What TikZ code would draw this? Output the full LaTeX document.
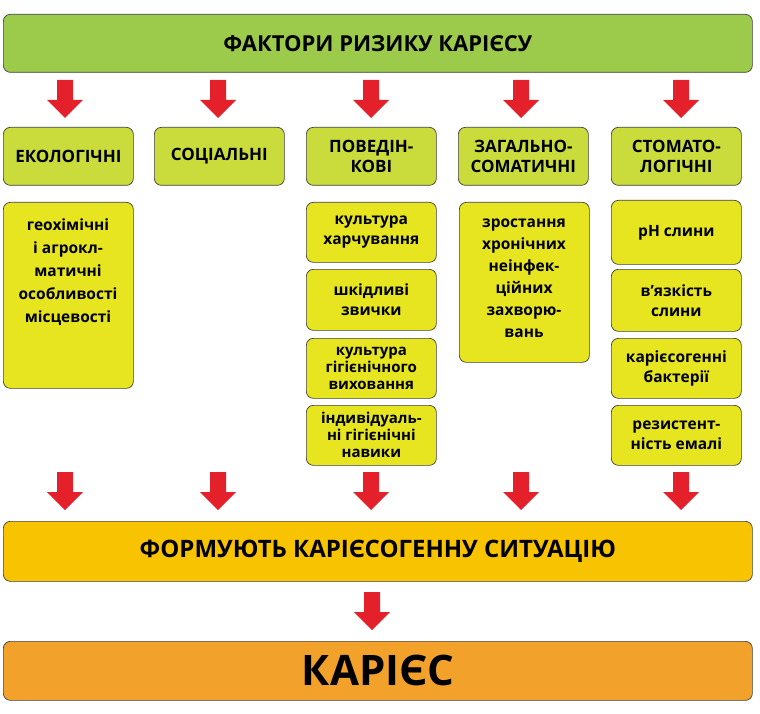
\documentclass[tikz,border=0pt]{standalone}
\usepackage{fontspec}
\setmainfont{Open Sans}
\begin{document}
\begin{tikzpicture}[x=1pt,y=-1pt,
  box/.style={draw=black!75,line width=0.7pt,rounded corners=7pt,align=center,font=\bfseries,inner sep=1pt},
  bar/.style={box,minimum width=749pt,minimum height=58pt,anchor=north west},
  cat/.style={box,fill=catc,minimum width=130pt,minimum height=58pt,anchor=north west,font=\bfseries\fontsize{17}{20}\selectfont},
  subf/.style={font=\bfseries\fontsize{15.5}{20}\selectfont},
  sub/.style={box,fill=subc,minimum width=130pt,anchor=north west,subf},
  rarrow/.pic={\fill[arrred] (-8,0)--(8,0)--(8,20)--(18,20)--(0,38)--(-18,20)--(-8,20)--cycle;}]
\definecolor{topc}{HTML}{9CCB4C}
\definecolor{catc}{HTML}{C9DC3C}
\definecolor{subc}{HTML}{E6E51F}
\definecolor{midc}{HTML}{F8C300}
\definecolor{botc}{HTML}{F2A12A}
\definecolor{arrred}{HTML}{E4202A}
\useasboundingbox (0,0) rectangle (760,714);
\node[bar,fill=topc,font=\bfseries\fontsize{22}{24}\selectfont] (top) at (3,14) {ФАКТОРИ РИЗИКУ КАРІЄСУ};
\foreach \x in {65,218,371,521,681} {\pic at (\x,80) {rarrow};}
\node[cat] (eco) at (3,127) {ЕКОЛОГІЧНІ};
\node[cat] (soc) at (154,127) {СОЦІАЛЬНІ};
\node[cat] (beh) at (306,127) {ПОВЕДІН-\\КОВІ};
\node[cat] (som) at (458,127) {ЗАГАЛЬНО-\\СОМАТИЧНІ};
\node[cat] (sto) at (611,127) {СТОМАТО-\\ЛОГІЧНІ};
\node[sub,minimum height=186pt,anchor=north west] (eco1) at (3,202) {};
\node[subf,font=\bfseries\fontsize{15.5}{23}\selectfont,align=center,anchor=north] (eco1t) at (68,215) {геохімічні\\і агрокл-\\матичні\\особливості\\місцевості};
\node[sub,minimum height=60pt] (b1) at (306,202) {культура\\харчування};
\node[sub,minimum height=61pt] (b2) at (306,269) {шкідливі\\звички};
\node[sub,minimum height=60pt,font=\bfseries\fontsize{15}{17}\selectfont] (b3) at (306,338) {культура\\гігієнічного\\виховання};
\node[sub,minimum height=60pt,font=\bfseries\fontsize{15}{17}\selectfont] (b4) at (306,405) {індивідуаль-\\ні гігієнічні\\навики};
\node[sub,minimum height=160pt] (s1) at (459,202) {};
\node[font=\bfseries\fontsize{15.5}{22}\selectfont,align=center,anchor=north] (s1t) at (524,215) {зростання\\хронічних\\неінфек-\\ційних\\захворю-\\вань};
\node[sub,minimum height=64pt] (t1) at (611,200) {pH слини};
\node[sub,minimum height=62pt] (t2) at (611,269) {в'язкість\\слини};
\node[sub,minimum height=60pt] (t3) at (611,338) {карієсогенні\\бактерії};
\node[sub,minimum height=60pt] (t4) at (611,405) {резистент-\\ність емалі};
\foreach \x in {65,218,371,521,681} {\pic at (\x,472) {rarrow};}
\node[bar,fill=midc,minimum height=60pt,font=\bfseries\fontsize{24}{26}\selectfont] (mid) at (3,521) {ФОРМУЮТЬ КАРІЄСОГЕННУ СИТУАЦІЮ};
\pic at (372,592) {rarrow};
\node[bar,fill=botc,minimum height=59pt,font=\bfseries\fontsize{42}{44}\selectfont] (bot) at (3,641) {КАРІЄС};
\end{tikzpicture}
\end{document}
